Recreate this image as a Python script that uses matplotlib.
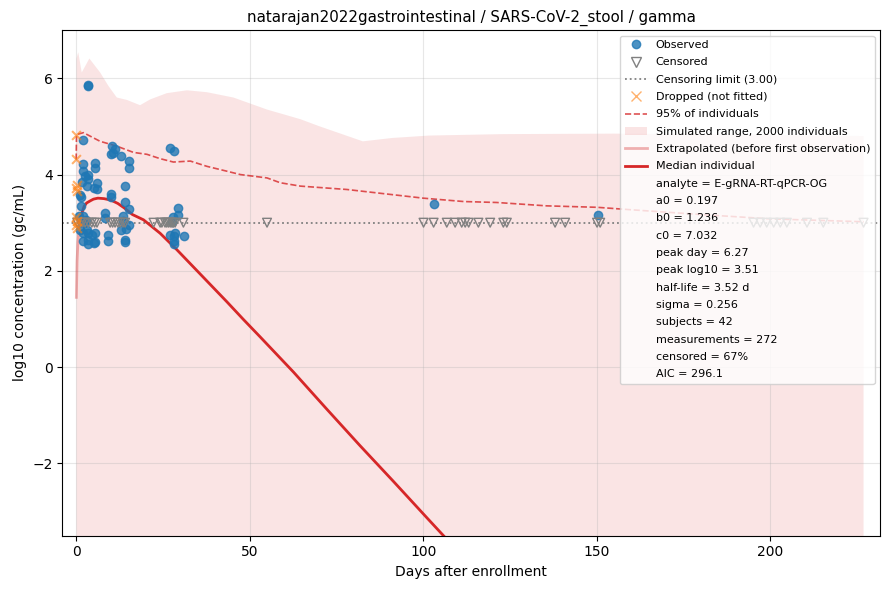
import matplotlib
matplotlib.use('Agg')
import matplotlib.pyplot as plt
from matplotlib.lines import Line2D
from matplotlib.patches import Patch

# datos
obs_day = [3.3, 3.4, 2.1, 10.3, 11.2, 10.1, 10.5, 13.0, 15.1, 15.1, 27.1, 28.3, 2.1, 2.1, 3.3,
           3.3, 5.3, 5.3, 1.6, 3.1, 6.1, 6.1, 5.2, 1.2, 1.3, 1.3, 10.1, 10.1, 14.1, 14.1,
           15.1, 8.2, 8.2, 29.2, 29.2, 28.0, 0.95, 1.9, 1.2, 2.1, 3.5, 5.5, 3.3, 1.9, 3.3,
           5.5, 9.3, 9.3, 14.1, 14.1, 14.4, 15.1, 13.0, 27.1, 28.2, 28.2, 28.2, 31.1, 28.5, 13.6,
           13.6, 2.6, 3.1, 4.5, 5.0, 2.3, 103.2, 150.4, 27.6, 2.8]
obs_val = [5.87, 5.84, 4.71, 4.60, 4.53, 4.43, 4.45, 4.38, 4.28, 4.14, 4.56, 4.49, 4.21, 4.07, 4.00,
           3.91, 4.24, 4.14, 3.84, 3.77, 3.83, 3.69, 3.72, 3.58, 3.54, 3.34, 3.60, 3.53, 3.76, 3.44,
           3.29, 3.20, 3.10, 3.31, 3.17, 3.12, 3.13, 3.13, 2.85, 2.79, 2.79, 2.79, 2.65, 2.61, 2.56,
           2.59, 2.75, 2.63, 2.65, 2.59, 2.87, 2.96, 2.84, 2.75, 2.72, 2.63, 2.56, 2.73, 2.79, 3.13,
           3.03, 3.96, 2.85, 2.75, 2.58, 3.00, 3.38, 3.17, 3.02, 3.05]

lod = 3.0
cens_day = [0.3, 1.2, 1.8, 2.6, 3.5, 4.5, 5.3, 6.0, 9.8, 10.5, 11.2, 12.0, 12.7, 13.5, 14.1,
            22.3, 24.2, 24.7, 25.6, 26.1, 26.6, 27.1, 27.6, 28.0, 28.5, 30.9, 55.0, 100.1, 103.0,
            106.8, 109.2, 111.1, 112.1, 113.1, 115.9, 119.3, 123.1, 124.1, 138.0, 140.9, 150.1,
            151.0, 195.2, 197.1, 199.0, 201.0, 202.9, 204.8, 210.6, 215.3, 226.9]

drop_day = [0.0, 0.0, 0.1, 0.0, 0.1, 0.0, 0.1, 0.0, 0.1]
drop_val = [4.82, 4.32, 3.79, 3.72, 3.66, 3.12, 3.03, 2.96, 2.90]

band_day = [0.05, 0.6, 1.6, 3.8, 6.9, 9.3, 11.7, 14.6, 18.4, 21.3, 26.1, 31.9, 37.7, 45.3,
            55.0, 64.6, 69.8, 82.6, 91.1, 101.7, 123.0, 154.9, 190.0, 226.9]
band_hi = [6.40, 6.54, 6.12, 6.41, 6.12, 5.84, 5.60, 5.55, 5.44, 5.56, 5.69, 5.75, 5.71, 5.60,
           5.35, 5.15, 5.01, 4.69, 4.76, 4.81, 4.84, 4.85, 4.83, 4.80]
band_lo = [-8.0] * len(band_day)

p95_day = [0.0, 0.1, 2.1, 6.9, 11.7, 16.5, 20.4, 24.2, 28.0, 32.9, 37.7, 43.4, 47.3, 55.0,
           58.8, 64.6, 78.0, 100.0, 111.6, 121.2, 135.6, 150.1, 159.7, 180.0, 200.0, 226.9]
p95_val = [4.31, 4.83, 4.87, 4.69, 4.59, 4.46, 4.42, 4.33, 4.26, 4.28, 4.17, 4.07, 4.00, 3.93,
           3.83, 3.76, 3.69, 3.51, 3.44, 3.42, 3.35, 3.32, 3.27, 3.17, 3.08, 3.02]

extrap_day = [0.05, 0.25, 0.5, 0.8, 1.0]
extrap_val = [1.45, 2.20, 2.60, 2.85, 3.02]

median_day = [1.0, 1.5, 2.3, 3.0, 4.2, 5.0, 6.27, 8.0, 10.0, 12.0, 13.8, 16.2, 19.4, 24.2,
              29.0, 33.8, 38.6, 43.4, 48.2, 53.0, 62.6, 72.2, 81.8, 91.4, 101.1, 106.5]
median_val = [3.02, 3.17, 3.34, 3.41, 3.46, 3.49, 3.51, 3.50, 3.47, 3.40, 3.31, 3.17, 3.06, 2.78,
              2.44, 2.08, 1.72, 1.36, 0.99, 0.63, -0.10, -0.87, -1.63, -2.37, -3.13, -3.55]

info = ['analyte = E-gRNA-RT-qPCR-OG', 'a0 = 0.197', 'b0 = 1.236', 'c0 = 7.032',
        'peak day = 6.27', 'peak log10 = 3.51', 'half-life = 3.52 d', 'sigma = 0.256',
        'subjects = 42', 'measurements = 272', 'censored = 67%', 'AIC = 296.1']

fig, ax = plt.subplots(figsize=(8.9, 5.9), dpi=100)
fig.subplots_adjust(left=0.07, right=0.989, top=0.949, bottom=0.092)

ax.fill_between(band_day, band_lo, band_hi, color='#d62728', alpha=0.12, linewidth=0)
ax.plot(p95_day, p95_val, '--', color='#d62728', alpha=0.8, lw=1.2)
ax.axhline(lod, color='gray', linestyle=':', lw=1.3)
ax.scatter(obs_day, obs_val, s=36, color='#1f77b4', alpha=0.8, zorder=3)
ax.scatter(cens_day, [lod] * len(cens_day), s=40, marker='v', facecolors='none',
           edgecolors='gray', linewidths=1.0, zorder=3)
ax.scatter(drop_day, drop_val, s=40, marker='x', color='#ff7f0e', alpha=0.6, zorder=3)
ax.plot(extrap_day, extrap_val, color='#d62728', alpha=0.35, lw=2)
ax.plot(median_day, median_val, color='#d62728', lw=2)

ax.set_xlim(-4, 231.7)
ax.set_ylim(-3.5, 7)
ax.grid(True, alpha=0.3)
ax.set_xlabel('Days after enrollment')
ax.set_ylabel('log10 concentration (gc/mL)')
ax.set_title('natarajan2022gastrointestinal / SARS-CoV-2_stool / gamma', fontsize=10.8)

handles = [
    Line2D([], [], marker='o', linestyle='none', color='#1f77b4', alpha=0.8, markersize=6),
    Line2D([], [], marker='v', linestyle='none', markerfacecolor='none', markeredgecolor='gray', markersize=7),
    Line2D([], [], linestyle=':', color='gray', lw=1.3),
    Line2D([], [], marker='x', linestyle='none', color='#ff7f0e', alpha=0.6, markersize=7),
    Line2D([], [], linestyle='--', color='#d62728', alpha=0.8, lw=1.2),
    Patch(facecolor='#d62728', alpha=0.12),
    Line2D([], [], color='#d62728', alpha=0.35, lw=2),
    Line2D([], [], color='#d62728', lw=2),
]
labels = ['Observed', 'Censored', 'Censoring limit (3.00)', 'Dropped (not fitted)',
          '95% of individuals', 'Simulated range, 2000 individuals',
          'Extrapolated (before first observation)', 'Median individual']
for t in info:
    handles.append(Line2D([], [], linestyle='none'))
    labels.append(t)
ax.legend(handles, labels, loc='upper right', fontsize=8, labelspacing=0.66)

plt.savefig('out.png')
